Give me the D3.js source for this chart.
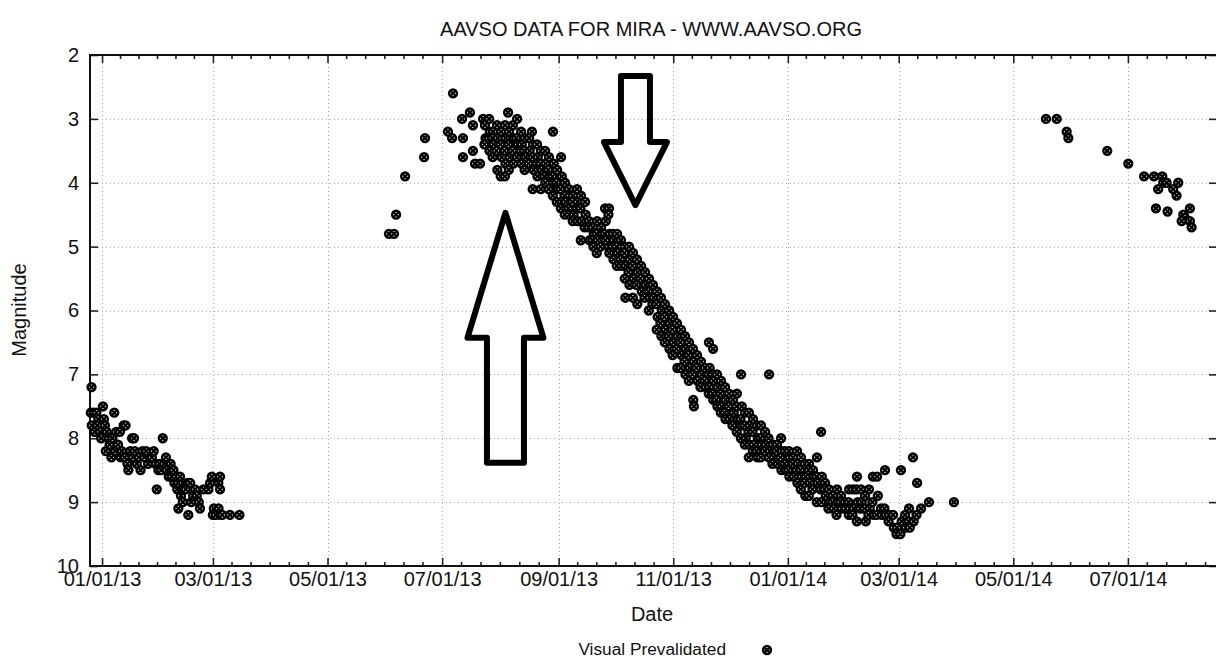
<!DOCTYPE html>
<html><head><meta charset="utf-8">
<script src="https://cdn.jsdelivr.net/npm/d3@7"></script>
<style>
html,body{margin:0;padding:0;background:#fff;}
svg{display:block;font-family:"Liberation Sans",Arial,Helvetica,sans-serif;}
</style></head><body>
<svg id="chart" width="1216" height="659"></svg>
<script>
// ---------------- data ----------------
const titleText = "AAVSO DATA FOR MIRA - WWW.AAVSO.ORG";
const xLabel = "Date";
const yLabel = "Magnitude";
const seriesName = "Visual Prevalidated";
const jdBase = 2456000;               // observation times below are JD − 2456000
const xDomain = ["2012-12-25T14:00Z", "2014-08-17T10:00Z"];
const yDomain = [2, 10];
const yTicks = [2, 3, 4, 5, 6, 7, 8, 9, 10];
const xTickDates = ["2013-01-01","2013-03-01","2013-05-01","2013-07-01","2013-09-01","2013-11-01",
                    "2014-01-01","2014-03-01","2014-05-01","2014-07-01"];
const minorPerInterval = 6;

// end of the 2012 cycle (JD−2456000, visual magnitude)
const obs2012 = [
[287.9,7.2],[287.5,7.6],[289.0,7.6],[290.5,7.6],[291.5,7.7],[288.0,7.8],[289.5,7.9],[291.0,7.8],[292.5,7.9],
[294.0,7.5],[293.0,8.0],[294.5,7.7],[295.0,7.8],[296.0,7.9],[297.0,8.0],[295.5,8.2],[297.5,8.1],[298.5,8.3],
[299.0,8.0],[300.0,7.6],[300.5,8.2],[301.0,7.9],[302.0,8.1],[303.0,7.9],[303.5,8.3],[304.0,8.2],[305.0,7.8],
[306.0,7.8],[305.5,8.3],[307.0,8.4],[307.5,8.5],[308.5,8.2],[309.5,8.0],[310.5,8.0],[310.0,8.3],[311.0,8.2],
[312.0,8.4],[313.0,8.3],[314.0,8.5],[315.0,8.2],[316.0,8.3],[317.0,8.2],[318.0,8.4],[319.0,8.3],[320.0,8.3],
[321.0,8.2],[322.0,8.4],[322.6,8.8],[323.5,8.5],[324.0,8.4],[325.0,8.5],[325.8,8.0],[326.5,8.4],[327.5,8.3],
[328.0,8.5],[329.0,8.6],[330.0,8.4],[330.5,8.6],[331.5,8.5],[332.0,8.7],[333.0,8.6],[333.5,8.8],[334.0,8.7],
[334.1,9.1],[335.0,8.6],[335.5,8.9],[336.0,8.8],[336.5,9.0],[337.0,8.8],[338.0,8.8],[339.0,8.7],[339.4,9.2],
[340.4,8.7],[341.0,9.0],[342.0,8.9],[343.0,8.8],[343.9,8.9],[345.0,9.0],[345.6,9.1],[347.5,8.8],[350.1,8.8],
[351.0,8.7],[351.9,8.6],[352.5,9.2],[353.0,9.1],[354.0,9.2],[355.4,8.7],[356.3,8.6],[356.3,8.8],[355.5,9.1],
[356.5,9.2],[357.5,9.2],[361.6,9.2],[366.6,9.2]
];

// 2013 rise to maximum
const obs2013Rise = [
[446.2,4.8],[448.9,4.8],[450.0,4.5],[454.8,3.9],[464.9,3.6],[465.4,3.3],[477.6,3.2],[479.8,3.3],[480.3,2.6],
[485.1,3.0],[485.6,3.3],[485.6,3.6],[489.3,2.9],[490.9,3.1],[490.9,3.5],[492.0,3.7],[494.7,3.7],[496.3,3.0],
[509.6,2.9],[522.3,3.2]
];

// 2013–2014 decline to minimum
const obs2013Decline = [
[497.3,3.1],[497.6,3.3],[497.0,3.4],
[499.5,3.0],[499.9,3.2],[499.2,3.3],[499.7,3.5],
[501.6,3.2],[501.2,3.3],[501.9,3.4],[501.4,3.6],
[503.7,3.1],[504.1,3.3],[503.4,3.5],[503.9,3.8],
[505.9,3.2],[505.5,3.4],[506.2,3.6],[505.7,3.9],
[508.0,3.1],[508.4,3.3],[507.7,3.5],[508.2,3.7],[507.9,3.9],
[510.1,3.2],[509.8,3.4],[510.5,3.6],[510.0,3.8],
[512.2,3.1],[512.6,3.3],[511.9,3.5],[512.4,3.7],
[514.4,3.0],[514.0,3.3],[514.7,3.4],[514.2,3.6],
[516.5,3.2],[516.9,3.4],[516.2,3.5],[516.7,3.7],
[518.6,3.3],[518.2,3.5],[518.9,3.6],[518.4,3.8],
[520.8,3.3],[521.1,3.5],[520.5,3.7],
[522.9,3.4],[522.6,3.6],[523.2,3.8],[522.7,4.1],
[525.0,3.4],[525.4,3.6],[524.7,3.7],[525.2,3.9],
[527.1,3.5],[526.8,3.7],[527.5,3.8],[527.0,4.1],
[529.3,3.5],[529.6,3.7],[528.9,3.9],[529.4,4.0],
[531.4,3.6],[531.0,3.8],[531.7,3.9],[531.2,4.1],
[533.5,3.2],[533.9,3.7],[533.2,3.9],[533.7,4.0],[533.4,4.2],
[535.7,3.8],[535.3,4.0],[536.0,4.1],[535.5,4.3],
[537.8,3.6],[538.2,3.9],[537.5,4.1],[538.0,4.3],[537.7,4.4],
[539.9,4.0],[539.6,4.2],[540.3,4.3],[539.8,4.5],
[542.0,4.1],[542.4,4.2],[541.7,4.4],[542.2,4.5],
[544.2,4.2],[543.8,4.3],[544.5,4.5],[544.0,4.6],
[546.3,4.1],[546.7,4.3],[546.0,4.4],[546.5,4.6],
[548.4,4.2],[548.1,4.4],[548.8,4.6],[548.3,4.9],
[550.6,4.3],[550.9,4.5],[550.3,4.7],
[552.7,4.6],[552.4,4.7],[553.0,4.9],
[554.8,4.7],[555.2,4.8],[554.5,4.9],[555.0,5.0],
[557.0,4.6],[556.6,4.8],[557.3,4.9],[556.8,5.1],
[559.1,4.7],[559.5,4.8],[558.8,5.0],
[561.2,4.4],[561.6,4.6],[560.9,4.8],[561.4,4.9],
[563.3,4.4],[563.0,4.5],[563.7,4.8],[563.2,5.0],[563.5,5.1],
[565.5,4.8],[565.9,4.9],[565.2,5.0],[565.7,5.2],
[567.6,4.8],[567.3,5.0],[568.0,5.1],[567.5,5.3],
[569.7,4.9],[570.1,5.0],[569.4,5.2],[569.9,5.3],
[571.8,5.0],[571.5,5.1],[572.2,5.3],[571.7,5.5],[572.0,5.8],
[574.0,5.0],[574.4,5.2],[573.7,5.4],[574.2,5.6],
[576.1,5.1],[575.8,5.3],[576.5,5.5],[576.0,5.8],
[578.2,5.2],[578.6,5.4],[577.9,5.6],[578.4,5.9],
[580.4,5.3],[580.0,5.5],[580.7,5.7],
[582.5,5.4],[582.9,5.6],[582.2,5.8],
[584.6,5.5],[584.3,5.7],[585.0,5.8],[584.5,6.0],
[586.7,5.6],[587.1,5.8],[586.4,5.9],
[588.9,5.7],[588.5,5.9],[589.2,6.1],[588.7,6.3],
[591.0,5.8],[591.4,6.0],[590.7,6.2],[591.2,6.4],
[593.1,5.9],[592.8,6.1],[593.5,6.3],[593.0,6.5],
[595.3,6.0],[595.7,6.2],[595.0,6.4],[595.5,6.6],
[597.4,6.1],[597.0,6.3],[597.7,6.5],[597.2,6.7],
[599.5,6.2],[599.9,6.4],[599.2,6.6],[599.7,6.9],
[601.6,6.3],[601.3,6.5],[602.0,6.7],[601.5,6.9],
[603.8,6.4],[604.2,6.6],[603.5,6.8],[604.0,7.0],
[605.9,6.5],[605.6,6.7],[606.3,6.9],[605.8,7.1],
[608.0,6.6],[608.4,6.8],[607.7,7.0],[608.2,7.4],[608.5,7.5],
[610.2,6.7],[609.8,6.9],[610.5,7.1],
[612.3,6.8],[612.7,7.0],[612.0,7.2],
[614.4,6.9],[614.1,7.1],[614.8,7.2],
[616.5,6.5],[616.9,6.9],[616.2,7.0],[616.7,7.2],[616.4,7.3],
[618.7,6.6],[618.3,7.0],[619.0,7.1],[618.5,7.3],[618.8,7.4],
[620.8,7.0],[621.2,7.2],[620.5,7.4],[621.0,7.5],
[622.9,7.1],[622.6,7.3],[623.3,7.5],[622.8,7.6],
[625.1,7.2],[625.5,7.4],[624.8,7.6],[625.3,7.7],
[627.2,7.3],[626.9,7.5],[627.6,7.7],
[629.3,7.4],[629.7,7.6],[629.0,7.8],
[631.4,7.3],[631.1,7.5],[631.8,7.7],[631.3,7.9],
[633.6,7.0],[634.0,7.5],[633.3,7.7],[633.8,7.8],[633.5,8.0],
[635.7,7.6],[635.4,7.8],[636.1,8.0],[635.6,8.1],
[637.8,7.6],[638.2,7.8],[637.5,7.9],[638.0,8.1],[637.7,8.3],
[640.0,7.7],[639.7,7.9],[640.4,8.1],[639.9,8.2],
[642.1,7.8],[642.5,8.0],[641.8,8.2],[642.3,8.3],
[644.2,7.8],[643.9,8.0],[644.6,8.1],[644.1,8.3],
[646.4,7.9],[646.8,8.1],[646.1,8.2],
[648.5,7.0],[648.2,8.0],[648.9,8.2],[648.4,8.3],
[650.6,8.1],[651.0,8.3],[650.3,8.4],
[652.7,8.1],[652.4,8.2],[653.1,8.4],
[654.9,8.0],[655.3,8.2],[654.6,8.3],[655.1,8.5],
[657.0,8.2],[656.7,8.4],[657.4,8.5],
[659.1,8.2],[659.5,8.3],[658.8,8.5],[659.3,8.6],
[661.3,8.3],[661.0,8.4],[661.7,8.6],
[663.4,8.2],[663.8,8.4],[663.1,8.5],[663.6,8.7],
[665.5,8.3],[665.2,8.5],[665.9,8.6],[665.4,8.8],
[667.6,8.4],[668.0,8.6],[667.3,8.7],[667.8,8.9],
[669.8,8.4],[669.5,8.5],[670.2,8.7],[669.7,8.9],
[671.9,8.5],[672.3,8.6],[671.6,8.8],
[674.0,8.3],[673.7,8.6],[674.4,8.7],[673.9,9.0],
[676.2,7.9],[676.6,8.6],[675.9,8.8],[676.4,9.0],
[678.3,8.7],[678.0,8.8],[678.7,8.9],
[680.4,8.8],[680.8,9.0],[680.1,9.1],
[682.5,8.9],[682.2,9.0],[682.9,9.1],
[684.7,8.8],[685.1,9.0],[684.4,9.2],
[686.8,8.9],[686.5,9.0],[687.2,9.1],
[688.9,9.0],[689.3,9.1],
[691.1,8.8],[690.8,9.0],[691.5,9.1],[691.0,9.2],
[693.2,8.8],[693.6,9.1],[692.9,9.2],
[695.3,8.6],[695.0,8.8],[695.7,9.0],[695.2,9.3],
[697.4,8.8],[697.8,9.0],[697.1,9.1],
[699.6,8.9],[699.3,9.1],[700.0,9.3],
[701.7,8.8],[702.1,9.1],[701.4,9.2],
[703.8,8.6],[703.5,9.0],[704.2,9.2],
[706.0,8.6],[706.4,8.9],[705.7,9.2],
[708.1,9.1],[708.5,9.2],[710.2,8.5],[709.9,9.1],[710.6,9.2],
[712.4,9.2],[712.1,9.3],[714.5,9.2],[714.9,9.4],
[716.6,9.4],[716.3,9.5],[718.7,8.5],[719.1,9.3],[718.4,9.5],
[720.9,9.2],[721.3,9.4],[723.0,9.1],[722.7,9.3],[723.4,9.4],
[725.1,8.3],[725.5,9.3],[727.3,8.7],[727.0,9.2],[729.4,9.1],
[733.6,9.0],[746.9,9.0]
];

// 2014 rise (after solar conjunction)
const obs2014 = [
[795.9,3.0],[801.6,3.0],[806.9,3.2],[807.8,3.3],[828.5,3.5],[839.7,3.7],[848.1,3.9],[853.4,3.9],[857.8,3.9],
[858.3,4.0],[860.1,4.0],[855.6,4.1],[863.6,4.1],[866.3,4.0],[865.4,4.2],[854.4,4.4],[860.6,4.45],[872.5,4.4],
[869.0,4.5],[869.9,4.55],[868.1,4.6],[872.5,4.6],[873.4,4.7]
];

// annotation arrows: tip position (JD−2456000, mag); shape in pixels
const arrowUp   = {jd: 508.2, mag: 4.47};
const arrowDown = {jd: 577.4, mag: 4.35};

// ---------------- drawing ----------------
const svg = d3.select("#chart");
const L = 90, R = 1217, T = 55, B = 566;
const FS = 20;
const jdToDate = jd => new Date((jd + jdBase - 2440587.5) * 864e5);
const x = d3.scaleUtc().domain(xDomain.map(d => new Date(d))).range([L, R]);
const y = d3.scaleLinear().domain(yDomain).range([T, B]);
const majors = xTickDates.map(d => new Date(d + "T00:00Z"));
const fmt = d3.utcFormat("%m/%d/%y");

// minor ticks
const ext = [d3.utcMonth.offset(majors[0], -2), ...majors, d3.utcMonth.offset(majors[majors.length-1], 2)];
const minors = [];
for (let i = 0; i < ext.length - 1; i++) {
  const a = +ext[i], b = +ext[i+1];
  for (let k = 1; k < minorPerInterval; k++) minors.push(new Date(a + (b - a) * k / minorPerInterval));
}
const minorIn = minors.filter(d => x(d) >= L && x(d) <= R);

// grid
const grid = svg.append("g").attr("stroke", "#aaa").attr("stroke-width", 1).attr("stroke-dasharray", "1,3");
grid.selectAll("line.gx").data(majors).join("line").attr("class","gx")
  .attr("x1", d => Math.round(x(d)) + 0.5).attr("x2", d => Math.round(x(d)) + 0.5).attr("y1", T).attr("y2", B);
grid.selectAll("line.gy").data(yTicks.slice(1, -1)).join("line").attr("class","gy")
  .attr("y1", d => Math.round(y(d)) + 0.5).attr("y2", d => Math.round(y(d)) + 0.5).attr("x1", L).attr("x2", R);

// axes
const axB = svg.append("g").attr("transform", `translate(0,${B})`)
  .call(d3.axisBottom(x).tickValues(majors).tickFormat(fmt).tickSizeInner(-8).tickSizeOuter(0).tickPadding(6));
const axT = svg.append("g").attr("transform", `translate(0,${T})`)
  .call(d3.axisTop(x).tickValues(majors).tickFormat("").tickSizeInner(-8).tickSizeOuter(0));
const axL = svg.append("g").attr("transform", `translate(${L},0)`)
  .call(d3.axisLeft(y).tickValues(yTicks).tickFormat(d3.format("d")).tickSizeInner(-8).tickSizeOuter(0).tickPadding(11));
const axR = svg.append("g").attr("transform", `translate(${R},0)`)
  .call(d3.axisRight(y).tickValues(yTicks).tickFormat("").tickSizeInner(-8).tickSizeOuter(0));
[axB, axT, axL, axR].forEach(a => {
  a.select(".domain").remove();
  a.selectAll(".tick line").attr("stroke", "#222").attr("stroke-width", 1.6);
  a.selectAll("text").attr("font-size", FS).attr("fill", "#111")
    .attr("font-family", '"Liberation Sans",Arial,sans-serif');
});
// minor ticks (top & bottom)
svg.append("g").selectAll("line").data(minorIn).join("line")
  .attr("x1", d => x(d)).attr("x2", d => x(d)).attr("y1", B).attr("y2", B - 4)
  .attr("stroke", "#222").attr("stroke-width", 1.6);
svg.append("g").selectAll("line").data(minorIn).join("line")
  .attr("x1", d => x(d)).attr("x2", d => x(d)).attr("y1", T).attr("y2", T + 4)
  .attr("stroke", "#222").attr("stroke-width", 1.6);

// frame
svg.append("rect").attr("x", L).attr("y", T).attr("width", R - L).attr("height", B - T)
  .attr("fill", "none").attr("stroke", "#111").attr("stroke-width", 2);

// points
const allObs = [...obs2012, ...obs2013Rise, ...obs2013Decline, ...obs2014];
function drawMarker(sel) {
  sel.append("circle").attr("r", 3.9).attr("fill", "#fff").attr("stroke", "#000").attr("stroke-width", 2.5);
  sel.append("path").attr("d", "M-2.9,-2.9L2.9,2.9M-2.9,2.9L2.9,-2.9").attr("stroke", "#000").attr("stroke-width", 2.2);
}
const pts = svg.append("g");
pts.selectAll("g").data(allObs).join("g")
  .attr("transform", d => `translate(${x(jdToDate(d[0]))},${y(d[1])})`)
  .call(drawMarker);

// arrows
function arrowPath(dir, headHalf, shaftHalf, headLen, total) {
  const s = dir; // 1 = tip at top pointing up, -1 = tip at bottom pointing down
  return d3.line()([[0,0],[headHalf, s*headLen],[shaftHalf, s*headLen],[shaftHalf, s*total],
                    [-shaftHalf, s*total],[-shaftHalf, s*headLen],[-headHalf, s*headLen]]) + "Z";
}
svg.append("path")
  .attr("transform", `translate(${x(jdToDate(arrowUp.jd))},${y(arrowUp.mag)})`)
  .attr("d", arrowPath(1, 38, 18.5, 125, 250))
  .attr("fill", "none").attr("stroke", "#000").attr("stroke-width", 6).attr("stroke-linejoin", "round");
svg.append("path")
  .attr("transform", `translate(${x(jdToDate(arrowDown.jd))},${y(arrowDown.mag)})`)
  .attr("d", arrowPath(-1, 31.5, 14.5, 63, 129))
  .attr("fill", "none").attr("stroke", "#000").attr("stroke-width", 6).attr("stroke-linejoin", "round");

// texts
svg.append("text").attr("x", 651).attr("y", 36).attr("text-anchor", "middle")
  .attr("font-size", FS).attr("fill", "#111").text(titleText);
svg.append("text").attr("x", 652).attr("y", 621).attr("text-anchor", "middle")
  .attr("font-size", FS).attr("fill", "#111").text(xLabel);
svg.append("text").attr("transform", "translate(26,310) rotate(-90)").attr("text-anchor", "middle")
  .attr("font-size", FS).attr("fill", "#111").text(yLabel);
// legend
svg.append("text").attr("x", 726).attr("y", 655).attr("text-anchor", "end")
  .attr("font-size", 17.3).attr("fill", "#111").text(seriesName);
svg.append("g").attr("transform", "translate(767,650)").call(drawMarker);
</script>
</body></html>
